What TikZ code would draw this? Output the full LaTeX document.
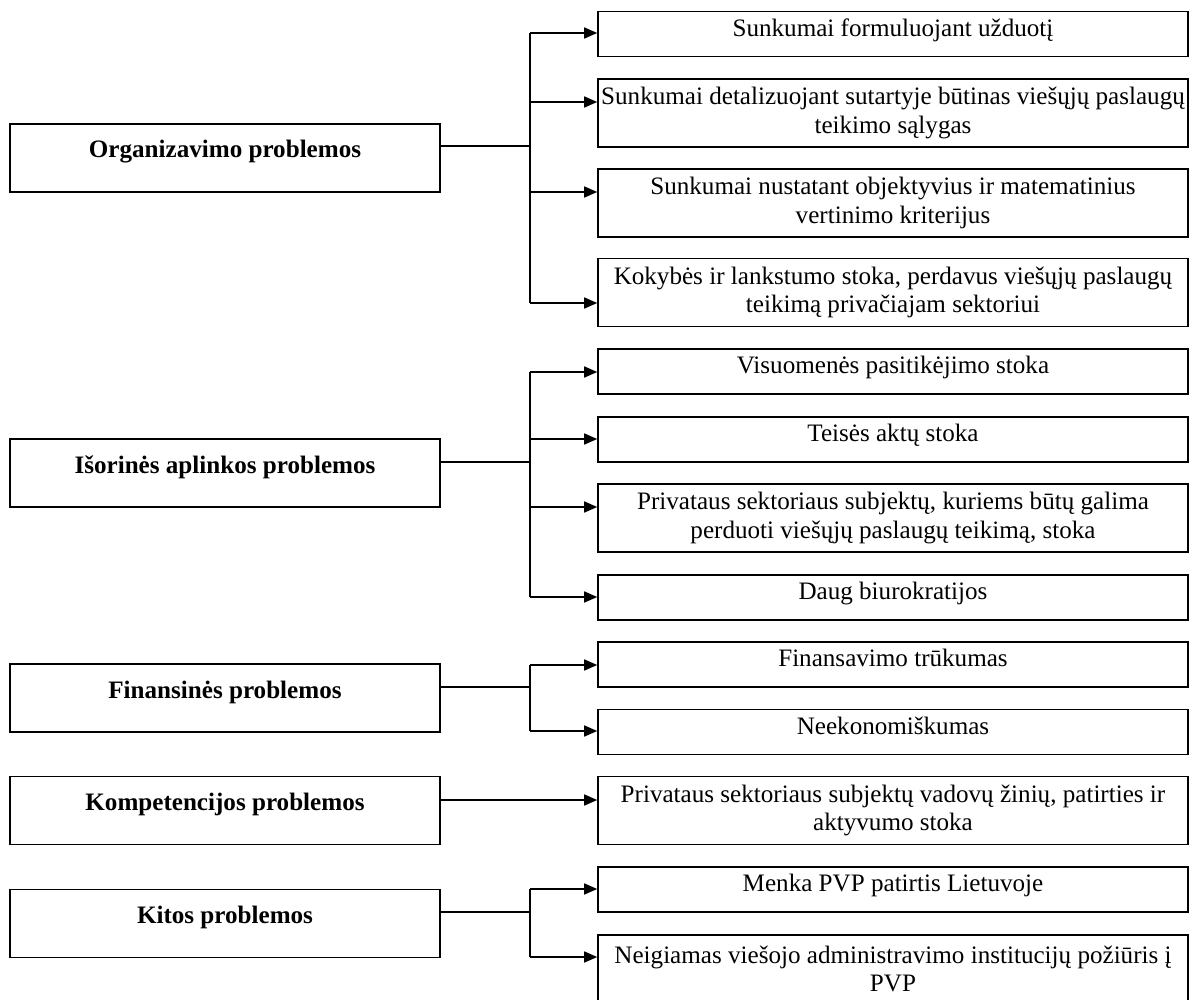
\documentclass[tikz,border=0pt]{standalone}
\usepackage{fontspec}
\setmainfont{Liberation Serif}
\usepackage{tikz}
\usetikzlibrary{arrows.meta}

\tikzset{
  leftbox/.style={draw, line width=0.8pt, minimum width=205.5pt, minimum height=32.5pt,
    inner sep=0pt, font=\fontsize{12}{13.8}\selectfont\bfseries, text height=8pt, text depth=8pt},
  rightbox/.style={draw, line width=0.8pt, minimum width=282pt, minimum height=21.5pt,
    inner xsep=1pt, inner ysep=0pt, align=center, text height=8pt, text depth=6pt},
  tallbox/.style={draw, line width=0.8pt, minimum width=282pt, minimum height=32.5pt,
    inner xsep=1pt, inner ysep=0pt, align=center},
  line/.style={line width=0.6pt},
  arr/.style={line width=0.6pt, -{Triangle[length=6.2pt,width=5.3pt]}}
}

\begin{document}
\begin{tikzpicture}[x=0.478pt, y=-0.478pt, font=\fontsize{12}{13.8}\selectfont]
  \useasboundingbox (0,0) rectangle (1196,1000);

  % left column
  \node[leftbox] (org) at (225,158) {Organizavimo problemos};
  \node[leftbox] (isor) at (225,473) {Išorinės aplinkos problemos};
  \node[leftbox] (fin) at (225,698) {Finansinės problemos};
  \node[leftbox] (komp) at (225,810.5) {Kompetencijos problemos};
  \node[leftbox] (kit) at (225,923.5) {Kitos problemos};

  % right column
  \node[rightbox] (r1) at (893,34) {Sunkumai formuluojant užduotį};
  \node[tallbox] (r2) at (893,113) {Sunkumai detalizuojant sutartyje būtinas viešųjų paslaugų\\ teikimo sąlygas};
  \node[tallbox] (r3) at (893,203) {Sunkumai nustatant objektyvius ir matematinius\\ vertinimo kriterijus};
  \node[tallbox] (r4) at (893,292.5) {Kokybės ir lankstumo stoka, perdavus viešųjų paslaugų\\ teikimą privačiajam sektoriui};
  \node[rightbox] (r5) at (893,371.5) {Visuomenės pasitikėjimo stoka};
  \node[rightbox] (r6) at (893,439.5) {Teisės aktų stoka};
  \node[tallbox] (r7) at (893,518) {Privataus sektoriaus subjektų, kuriems būtų galima\\ perduoti viešųjų paslaugų teikimą, stoka};
  \node[rightbox] (r8) at (893,597.5) {Daug biurokratijos};
  \node[rightbox] (r9) at (893,664.5) {Finansavimo trūkumas};
  \node[rightbox] (r10) at (893,732) {Neekonomiškumas};
  \node[tallbox] (r11) at (893,810.5) {Privataus sektoriaus subjektų vadovų žinių, patirties ir\\ aktyvumo stoka};
  \node[rightbox] (r12) at (893,889.5) {Menka PVP patirtis Lietuvoje};
  \node[tallbox] (r13) at (893,969) {Neigiamas viešojo administravimo institucijų požiūris į\\ PVP};

  % organizavimo
  \coordinate (j1) at (530,146);
  \draw[line] (org.east |- j1) -- (j1);
  \draw[line] (j1 |- 0,33) -- (j1 |- 0,303);
  \draw[arr] (j1 |- 0,33) -- (r1.west |- 0,33);
  \draw[arr] (j1 |- 0,102) -- (r2.west |- 0,102);
  \draw[arr] (j1 |- 0,192) -- (r3.west |- 0,192);
  \draw[arr] (j1 |- 0,303) -- (r4.west |- 0,303);

  % isorines aplinkos
  \coordinate (j2) at (530,462);
  \draw[line] (isor.east |- j2) -- (j2);
  \draw[line] (j2 |- 0,372) -- (j2 |- 0,597);
  \draw[arr] (j2 |- 0,372) -- (r5.west |- 0,372);
  \draw[arr] (j2 |- 0,439) -- (r6.west |- 0,439);
  \draw[arr] (j2 |- 0,507) -- (r7.west |- 0,507);
  \draw[arr] (j2 |- 0,597) -- (r8.west |- 0,597);

  % finansines
  \coordinate (j3) at (530,687);
  \draw[line] (fin.east |- j3) -- (j3);
  \draw[line] (j3 |- 0,665) -- (j3 |- 0,731);
  \draw[arr] (j3 |- 0,665) -- (r9.west |- 0,665);
  \draw[arr] (j3 |- 0,731) -- (r10.west |- 0,731);

  % kompetencijos
  \draw[arr] (komp.east |- 0,800) -- (r11.west |- 0,800);

  % kitos
  \coordinate (j5) at (530,912);
  \draw[line] (kit.east |- j5) -- (j5);
  \draw[line] (j5 |- 0,889) -- (j5 |- 0,957);
  \draw[arr] (j5 |- 0,889) -- (r12.west |- 0,889);
  \draw[arr] (j5 |- 0,957) -- (r13.west |- 0,957);
\end{tikzpicture}
\end{document}
